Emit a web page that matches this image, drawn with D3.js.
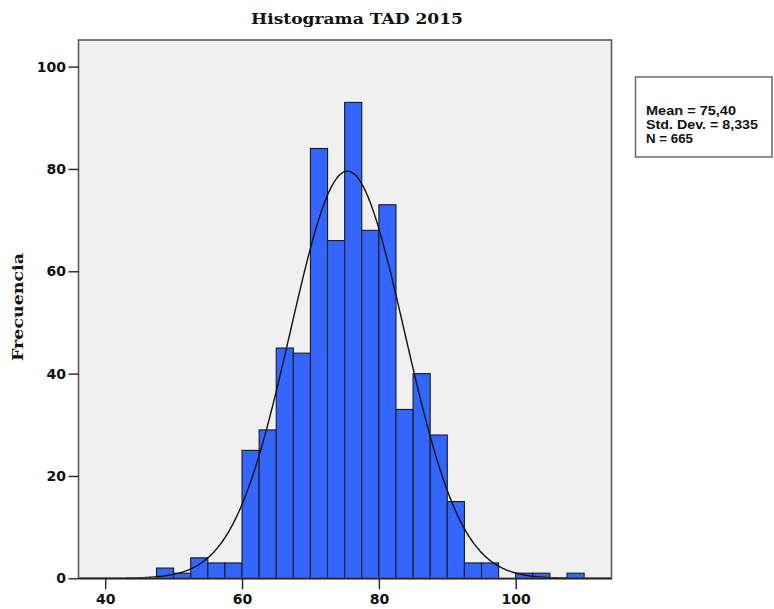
<!DOCTYPE html>
<html>
<head>
<meta charset="utf-8">
<script src="https://cdn.jsdelivr.net/npm/d3@7"></script>
<style>
  html, body { margin: 0; padding: 0; background: #ffffff; }
  svg { display: block; }
</style>
</head>
<body>
<svg id="chart" width="774" height="609"></svg>
<script>
// Histogram bins (lower edge) and frequencies
const binStarts = [47.5, 50, 52.5, 55, 57.5, 60, 62.5, 65, 67.5, 70, 72.5, 75, 77.5, 80, 82.5, 85, 87.5, 90, 92.5, 95, 97.5, 100, 102.5, 105, 107.5];
const binWidth = 2.5;
const frequencies = [2, 1, 4, 3, 3, 25, 29, 45, 44, 84, 66, 93, 68, 73, 33, 40, 28, 15, 3, 3, 0, 1, 1, 0, 1];

// Summary statistics
const meanValue = 75.40;
const stdDev = 8.335;
const nCount = 665;
const statsLines = ["Mean = 75,40", "Std. Dev. = 8,335", "N = 665"];
const statsWidths = [90, 112, 47];

// Axis ticks
const xTicks = [40, 60, 80, 100];
const yTicks = [0, 20, 40, 60, 80, 100];

const titleText = "Histograma TAD 2015";
const yLabel = "Frecuencia";

const svg = d3.select("#chart");

const plot = { left: 78.5, right: 611.5, top: 40, bottom: 578.3 };

const x = d3.scaleLinear().domain([36.1, 114]).range([plot.left, plot.right]);
const y = d3.scaleLinear().domain([0, 105.2]).range([plot.bottom, plot.top]);

// Plot background
svg.append("rect")
  .attr("x", plot.left).attr("y", plot.top)
  .attr("width", plot.right - plot.left).attr("height", plot.bottom - plot.top)
  .attr("fill", "#f0f0f0");

svg.append("defs").append("clipPath").attr("id", "plotClip")
  .append("rect")
  .attr("x", plot.left).attr("y", plot.top)
  .attr("width", plot.right - plot.left).attr("height", plot.bottom - plot.top);

// Bars
const bins = binStarts.map((s, i) => ({ x0: s, x1: s + binWidth, n: frequencies[i] }));
svg.append("g")
  .selectAll("rect")
  .data(bins.filter(d => d.n > 0))
  .join("rect")
  .attr("x", d => x(d.x0))
  .attr("y", d => y(d.n))
  .attr("width", d => x(d.x1) - x(d.x0))
  .attr("height", d => y(0) - y(d.n))
  .attr("fill", "#3366ff")
  .attr("stroke", "#1a1a1a")
  .attr("stroke-width", 1.1);

// Normal curve scaled to counts
const scaleFactor = nCount * binWidth / (stdDev * Math.sqrt(2 * Math.PI));
const curvePts = d3.range(36.1, 114.01, 0.2).map(v => [v, scaleFactor * Math.exp(-0.5 * Math.pow((v - meanValue) / stdDev, 2))]);
svg.append("path")
  .datum(curvePts)
  .attr("clip-path", "url(#plotClip)")
  .attr("fill", "none")
  .attr("stroke", "#111")
  .attr("stroke-width", 1.4)
  .attr("d", d3.line().x(d => x(d[0])).y(d => y(d[1])).curve(d3.curveBasis));

// Frame
svg.append("rect")
  .attr("x", plot.left).attr("y", plot.top)
  .attr("width", plot.right - plot.left).attr("height", plot.bottom - plot.top)
  .attr("fill", "none")
  .attr("stroke", "#5a5a5a")
  .attr("stroke-width", 1.6);

// Y axis
const yAxis = d3.axisLeft(y).tickValues(yTicks).tickSize(10).tickPadding(2.5).tickSizeOuter(0);
const gy = svg.append("g").attr("transform", `translate(${plot.left},0)`).call(yAxis);
gy.select(".domain").remove();
gy.selectAll(".tick line").attr("stroke", "#222").attr("stroke-width", 1.4);
gy.selectAll(".tick text")
  .attr("font-family", "DejaVu Sans, sans-serif")
  .attr("font-weight", "bold")
  .attr("font-size", "14px")
  .attr("fill", "#111");

// X axis
const xAxis = d3.axisBottom(x).tickValues(xTicks).tickSize(11).tickPadding(5).tickSizeOuter(0);
const gx = svg.append("g").attr("transform", `translate(0,${plot.bottom})`).call(xAxis);
gx.select(".domain").attr("stroke", "#222").attr("stroke-width", 1.6);
gx.selectAll(".tick line").attr("stroke", "#222").attr("stroke-width", 1.4);
gx.selectAll(".tick text")
  .attr("font-family", "DejaVu Sans, sans-serif")
  .attr("font-weight", "bold")
  .attr("font-size", "14px")
  .attr("fill", "#111");

// Title
svg.append("text")
  .attr("x", 357).attr("y", 24)
  .attr("text-anchor", "middle")
  .attr("font-family", "DejaVu Serif, serif")
  .attr("font-weight", "bold")
  .attr("font-size", "15px")
  .attr("textLength", 212)
  .attr("lengthAdjust", "spacingAndGlyphs")
  .attr("fill", "#111")
  .text(titleText);

// Y axis label
svg.append("text")
  .attr("transform", "translate(23,307) rotate(-90)")
  .attr("text-anchor", "middle")
  .attr("font-family", "DejaVu Serif, serif")
  .attr("font-weight", "bold")
  .attr("font-size", "15px")
  .attr("textLength", 108)
  .attr("lengthAdjust", "spacingAndGlyphs")
  .attr("fill", "#111")
  .text(yLabel);

// Statistics box
svg.append("rect")
  .attr("x", 635.5).attr("y", 77)
  .attr("width", 136.5).attr("height", 80)
  .attr("fill", "#ffffff")
  .attr("stroke", "#6a6a6a")
  .attr("stroke-width", 1.5);

svg.append("g")
  .selectAll("text")
  .data(statsLines)
  .join("text")
  .attr("x", 646)
  .attr("y", (d, i) => 115 + i * 14)
  .attr("font-family", "Liberation Sans, Arial, sans-serif")
  .attr("font-weight", "bold")
  .attr("font-size", "12.5px")
  .attr("textLength", (d, i) => statsWidths[i])
  .attr("lengthAdjust", "spacingAndGlyphs")
  .attr("fill", "#111")
  .text(d => d);
</script>
</body>
</html>
